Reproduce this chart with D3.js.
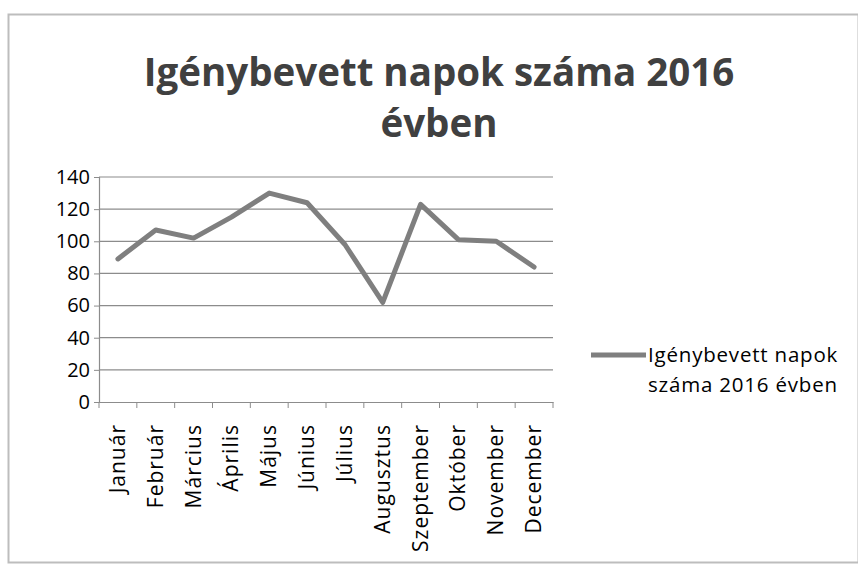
<!DOCTYPE html>
<html lang="hu">
<head>
<meta charset="UTF-8">
<title>Igénybevett napok száma 2016 évben</title>
<script src="https://d3js.org/d3.v7.min.js"></script>
<style>
  body { margin: 0; background: #fff; }
  text { font-family: "Open Sans", "DejaVu Sans", sans-serif; }
</style>
</head>
<body>
<div id="chart"></div>
<script>
const months = ["Január", "Február", "Március", "Április", "Május", "Június",
                "Július", "Augusztus", "Szeptember", "Október", "November", "December"];
const days = [89, 107, 102, 115, 130, 124, 98, 62, 123, 101, 100, 84];
const yTicks = [0, 20, 40, 60, 80, 100, 120, 140];

const W = 858, H = 572;
const plot = {left: 99, right: 553, top: 177, bottom: 402};

const svg = d3.select("#chart").append("svg")
    .attr("width", W)
    .attr("height", H);

// keret
svg.append("rect")
    .attr("x", 8.5).attr("y", 14.5)
    .attr("width", W - 8).attr("height", H - 24)
    .attr("fill", "#fff")
    .attr("stroke", "#bdbdbd")
    .attr("stroke-width", 2);

// cim
const title = svg.append("text")
    .attr("text-anchor", "middle")
    .attr("fill", "#404040")
    .attr("font-weight", "bold")
    .attr("font-size", 38.5);
title.append("tspan").attr("x", 439).attr("y", 86).text("Igénybevett napok száma 2016");
title.append("tspan").attr("x", 439).attr("y", 137).text("évben");

const x = d3.scaleBand()
    .domain(months)
    .range([plot.left, plot.right]);

const y = d3.scaleLinear()
    .domain([0, 140])
    .range([plot.bottom, plot.top]);

// racsvonalak
svg.append("g")
    .selectAll("line")
    .data(yTicks.filter(d => d > 0))
    .enter().append("line")
    .attr("x1", plot.left).attr("x2", plot.right)
    .attr("y1", d => y(d)).attr("y2", d => y(d))
    .attr("stroke", "#8c8c8c")
    .attr("stroke-width", 1.2);

// y tengely
const yAxis = svg.append("g")
    .attr("transform", `translate(${plot.left},0)`)
    .call(d3.axisLeft(y).tickValues(yTicks).tickSize(5).tickPadding(4));
yAxis.select(".domain").attr("stroke", "#8c8c8c").attr("stroke-width", 1.2);
yAxis.selectAll(".tick line").attr("stroke", "#8c8c8c");
yAxis.selectAll(".tick text")
    .attr("font-size", 20)
    .attr("fill", "#000")
    .attr("font-family", "Open Sans, sans-serif");

// x tengely
const xAxis = svg.append("g")
    .attr("transform", `translate(0,${plot.bottom})`)
    .call(d3.axisBottom(x).tickSize(0).tickFormat(""));
xAxis.select(".domain").attr("stroke", "#8c8c8c").attr("stroke-width", 1.2);

svg.append("g")
    .selectAll("line")
    .data(months.concat(["_end"]))
    .enter().append("line")
    .attr("x1", (d, i) => i < months.length ? x(d) : plot.right)
    .attr("x2", (d, i) => i < months.length ? x(d) : plot.right)
    .attr("y1", plot.bottom).attr("y2", plot.bottom + 6)
    .attr("stroke", "#8c8c8c");

svg.append("g")
    .selectAll("text")
    .data(months)
    .enter().append("text")
    .attr("transform", d => `translate(${x(d) + x.bandwidth() / 2 + 7},${plot.bottom + 22}) rotate(-90)`)
    .attr("text-anchor", "end")
    .attr("font-size", 21)
    .attr("letter-spacing", 1)
    .attr("fill", "#000")
    .text(d => d);

// adatvonal
const line = d3.line()
    .x((d, i) => x(months[i]) + x.bandwidth() / 2)
    .y(d => y(d));

svg.append("path")
    .datum(days)
    .attr("d", line)
    .attr("fill", "none")
    .attr("stroke", "#7f7f7f")
    .attr("stroke-width", 5)
    .attr("stroke-linejoin", "round")
    .attr("stroke-linecap", "round");

// jelmagyarazat
const legend = svg.append("g");
legend.append("line")
    .attr("x1", 591).attr("x2", 646)
    .attr("y1", 355).attr("y2", 355)
    .attr("stroke", "#7f7f7f")
    .attr("stroke-width", 5);
const lt = legend.append("text")
    .attr("font-size", 20.5)
    .attr("letter-spacing", 0.8)
    .attr("fill", "#000");
lt.append("tspan").attr("x", 648).attr("y", 362).text("Igénybevett napok");
lt.append("tspan").attr("x", 648).attr("y", 392).text("száma 2016 évben");
</script>
</body>
</html>
